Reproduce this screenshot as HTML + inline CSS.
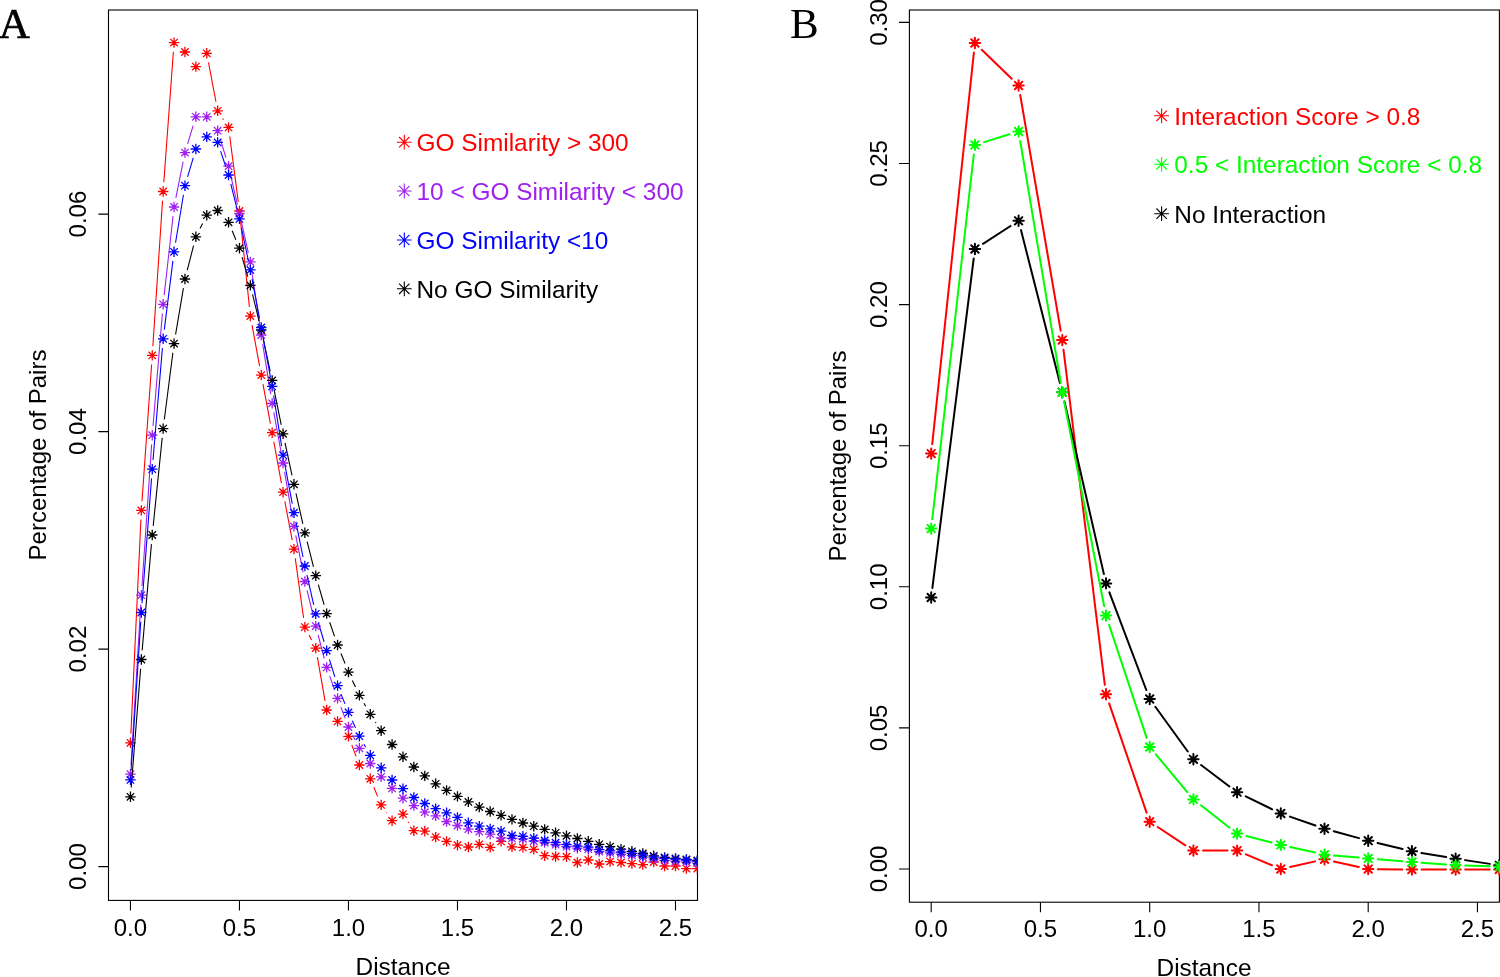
<!DOCTYPE html>
<html><head><meta charset="utf-8"><style>
html,body{margin:0;padding:0;background:#fff;width:1500px;height:977px;overflow:hidden}
svg{display:block;will-change:transform}

</style></head><body>
<svg width="1500" height="977" viewBox="0 0 1500 977">
<defs><clipPath id="ca"><rect x="108.5" y="10" width="589" height="890.4"/></clipPath><clipPath id="cb"><rect x="909.4" y="10" width="590.6" height="892.2"/></clipPath></defs>
<rect width="1500" height="977" fill="#fff"/>
<text x="-1.3" y="38" stroke="#000" stroke-width="0.7" style="font-family:&quot;Liberation Serif&quot;,serif;font-weight:normal;font-size:43px">A</text>
<text x="790" y="37.5" style="font-family:&quot;Liberation Serif&quot;,serif;font-weight:normal;font-size:43px">B</text>
<g fill="none" stroke="#000" stroke-width="1.1">
<rect x="108.5" y="10" width="589" height="890.4"/>
<path d="M130.45 900.4v10M239.46 900.4v10M348.47 900.4v10M457.48 900.4v10M566.49 900.4v10M675.5 900.4v10M98.4 866.6H108.5M98.4 649.1H108.5M98.4 431.6H108.5M98.4 214.1H108.5"/>
</g>
<g font-family="Liberation Sans, sans-serif" font-size="24" text-anchor="middle" fill="#000">
<text x="130.45" y="935.6">0.0</text>
<text x="239.46" y="935.6">0.5</text>
<text x="348.47" y="935.6">1.0</text>
<text x="457.48" y="935.6">1.5</text>
<text x="566.49" y="935.6">2.0</text>
<text x="675.5" y="935.6">2.5</text>
<text transform="translate(85.9 866.6) rotate(-90)">0.00</text>
<text transform="translate(85.9 649.1) rotate(-90)">0.02</text>
<text transform="translate(85.9 431.6) rotate(-90)">0.04</text>
<text transform="translate(85.9 214.1) rotate(-90)">0.06</text>
<text x="403" y="974.7" font-size="24.4">Distance</text>
<text transform="translate(46.4 455) rotate(-90)">Percentage of Pairs</text>
</g>
<g clip-path="url(#ca)" fill="none">
<path d="M130.88 733.61L140.92 519.59M142 501.22L151.61 364.58M152.86 346.22L162.54 200.68M163.82 182.32L173.38 51.78M208.47 62.34L215.94 101.76M222.71 118.49L223.51 119.71M229.75 136.52L238.27 201.88M240.41 220.15L249.41 306.95M252.03 325.15L259.59 366.05M262.97 384.14L270.45 423.66M273.82 441.75L281.41 483.15M284.8 501.24L292.23 540.06M295.24 558.21L303.59 617.99M309.1 635.27L311.53 639.93M317.36 657.16L325.07 700.94M343 728.83L343.04 728.87M351.74 744.9L356.1 756.4M373.82 787.29L377.63 796.41M386.4 812.47L386.85 813.13M408.02 821.79L408.83 823.01" stroke="#ff0000" stroke-width="1.1"/>
<path d="M125.25 742.8h10.4M130.45 737.6v10.4M126.75 739.1l7.4 7.4M126.75 746.5l7.4 -7.4M136.15 510.4h10.4M141.35 505.2v10.4M137.65 506.7l7.4 7.4M137.65 514.1l7.4 -7.4M147.05 355.4h10.4M152.25 350.2v10.4M148.55 351.7l7.4 7.4M148.55 359.1l7.4 -7.4M157.95 191.5h10.4M163.15 186.3v10.4M159.45 187.8l7.4 7.4M159.45 195.2l7.4 -7.4M168.85 42.6h10.4M174.05 37.4v10.4M170.35 38.9l7.4 7.4M170.35 46.3l7.4 -7.4M179.75 52h10.4M184.95 46.8v10.4M181.25 48.3l7.4 7.4M181.25 55.7l7.4 -7.4M190.66 66.6h10.4M195.86 61.4v10.4M192.16 62.9l7.4 7.4M192.16 70.3l7.4 -7.4M201.56 53.3h10.4M206.76 48.1v10.4M203.06 49.6l7.4 7.4M203.06 57l7.4 -7.4M212.46 110.8h10.4M217.66 105.6v10.4M213.96 107.1l7.4 7.4M213.96 114.5l7.4 -7.4M223.36 127.4h10.4M228.56 122.2v10.4M224.86 123.7l7.4 7.4M224.86 131.1l7.4 -7.4M234.26 211h10.4M239.46 205.8v10.4M235.76 207.3l7.4 7.4M235.76 214.7l7.4 -7.4M245.16 316.1h10.4M250.36 310.9v10.4M246.66 312.4l7.4 7.4M246.66 319.8l7.4 -7.4M256.06 375.1h10.4M261.26 369.9v10.4M257.56 371.4l7.4 7.4M257.56 378.8l7.4 -7.4M266.96 432.7h10.4M272.16 427.5v10.4M268.46 429l7.4 7.4M268.46 436.4l7.4 -7.4M277.86 492.2h10.4M283.06 487v10.4M279.36 488.5l7.4 7.4M279.36 495.9l7.4 -7.4M288.77 549.1h10.4M293.97 543.9v10.4M290.27 545.4l7.4 7.4M290.27 552.8l7.4 -7.4M299.67 627.1h10.4M304.87 621.9v10.4M301.17 623.4l7.4 7.4M301.17 630.8l7.4 -7.4M310.57 648.1h10.4M315.77 642.9v10.4M312.07 644.4l7.4 7.4M312.07 651.8l7.4 -7.4M321.47 710h10.4M326.67 704.8v10.4M322.97 706.3l7.4 7.4M322.97 713.7l7.4 -7.4M332.37 721.4h10.4M337.57 716.2v10.4M333.87 717.7l7.4 7.4M333.87 725.1l7.4 -7.4M343.27 736.3h10.4M348.47 731.1v10.4M344.77 732.6l7.4 7.4M344.77 740l7.4 -7.4M354.17 765h10.4M359.37 759.8v10.4M355.67 761.3l7.4 7.4M355.67 768.7l7.4 -7.4M365.07 778.8h10.4M370.27 773.6v10.4M366.57 775.1l7.4 7.4M366.57 782.5l7.4 -7.4M375.97 804.9h10.4M381.17 799.7v10.4M377.47 801.2l7.4 7.4M377.47 808.6l7.4 -7.4M386.87 820.7h10.4M392.07 815.5v10.4M388.37 817l7.4 7.4M388.37 824.4l7.4 -7.4M397.78 814.1h10.4M402.98 808.9v10.4M399.28 810.4l7.4 7.4M399.28 817.8l7.4 -7.4M408.68 830.7h10.4M413.88 825.5v10.4M410.18 827l7.4 7.4M410.18 834.4l7.4 -7.4M419.58 831.2h10.4M424.78 826v10.4M421.08 827.5l7.4 7.4M421.08 834.9l7.4 -7.4M430.48 837.1h10.4M435.68 831.9v10.4M431.98 833.4l7.4 7.4M431.98 840.8l7.4 -7.4M441.38 841.4h10.4M446.58 836.2v10.4M442.88 837.7l7.4 7.4M442.88 845.1l7.4 -7.4M452.28 845.2h10.4M457.48 840v10.4M453.78 841.5l7.4 7.4M453.78 848.9l7.4 -7.4M463.18 847h10.4M468.38 841.8v10.4M464.68 843.3l7.4 7.4M464.68 850.7l7.4 -7.4M474.08 844.3h10.4M479.28 839.1v10.4M475.58 840.6l7.4 7.4M475.58 848l7.4 -7.4M484.98 847.3h10.4M490.18 842.1v10.4M486.48 843.6l7.4 7.4M486.48 851l7.4 -7.4M495.88 841.4h10.4M501.08 836.2v10.4M497.38 837.7l7.4 7.4M497.38 845.1l7.4 -7.4M506.79 846.8h10.4M511.99 841.6v10.4M508.29 843.1l7.4 7.4M508.29 850.5l7.4 -7.4M517.69 847.4h10.4M522.89 842.2v10.4M519.19 843.7l7.4 7.4M519.19 851.1l7.4 -7.4M528.59 849.3h10.4M533.79 844.1v10.4M530.09 845.6l7.4 7.4M530.09 853l7.4 -7.4M539.49 855.7h10.4M544.69 850.5v10.4M540.99 852l7.4 7.4M540.99 859.4l7.4 -7.4M550.39 856.5h10.4M555.59 851.3v10.4M551.89 852.8l7.4 7.4M551.89 860.2l7.4 -7.4M561.29 856.7h10.4M566.49 851.5v10.4M562.79 853l7.4 7.4M562.79 860.4l7.4 -7.4M572.19 862.5h10.4M577.39 857.3v10.4M573.69 858.8l7.4 7.4M573.69 866.2l7.4 -7.4M583.09 860h10.4M588.29 854.8v10.4M584.59 856.3l7.4 7.4M584.59 863.7l7.4 -7.4M593.99 864h10.4M599.19 858.8v10.4M595.49 860.3l7.4 7.4M595.49 867.7l7.4 -7.4M604.89 861.6h10.4M610.09 856.4v10.4M606.39 857.9l7.4 7.4M606.39 865.3l7.4 -7.4M615.8 862.5h10.4M621 857.3v10.4M617.3 858.8l7.4 7.4M617.3 866.2l7.4 -7.4M626.7 863.6h10.4M631.9 858.4v10.4M628.2 859.9l7.4 7.4M628.2 867.3l7.4 -7.4M637.6 864.6h10.4M642.8 859.4v10.4M639.1 860.9l7.4 7.4M639.1 868.3l7.4 -7.4M648.5 862h10.4M653.7 856.8v10.4M650 858.3l7.4 7.4M650 865.7l7.4 -7.4M659.4 866h10.4M664.6 860.8v10.4M660.9 862.3l7.4 7.4M660.9 869.7l7.4 -7.4M670.3 866h10.4M675.5 860.8v10.4M671.8 862.3l7.4 7.4M671.8 869.7l7.4 -7.4M681.2 868.6h10.4M686.4 863.4v10.4M682.7 864.9l7.4 7.4M682.7 872.3l7.4 -7.4M692.1 868.6h10.4M697.3 863.4v10.4M693.6 864.9l7.4 7.4M693.6 872.3l7.4 -7.4" stroke="#ff0000" stroke-width="1.3"/>
<path d="M131.01 765.02L140.79 604.38M141.98 586.02L151.63 444.38M153.02 426.03L162.39 313.47M164.18 295.16L173.03 216.14M175.86 197.98L183.15 161.62M187.63 143.8L193.18 125.6M220.36 139.49L225.86 157.41M230.63 175.16L237.39 204.54M241.48 222.48L248.34 252.92M251.72 271L259.91 325.9M262.71 344.09L270.71 394.21M273.82 412.35L281.41 453.95M284.62 472.07L292.41 517.33M295.75 535.43L303.08 572.47M307.05 590.44L313.58 617.16M318.11 635L324.32 658.5M329.72 676.08L334.52 689.72M340.85 707L345.19 718.4M352.66 735.19L355.18 740.11M364.73 755.78L364.91 756.02" stroke="#a020f0" stroke-width="1.1"/>
<path d="M125.25 774.2h10.4M130.45 769v10.4M126.75 770.5l7.4 7.4M126.75 777.9l7.4 -7.4M136.15 595.2h10.4M141.35 590v10.4M137.65 591.5l7.4 7.4M137.65 598.9l7.4 -7.4M147.05 435.2h10.4M152.25 430v10.4M148.55 431.5l7.4 7.4M148.55 438.9l7.4 -7.4M157.95 304.3h10.4M163.15 299.1v10.4M159.45 300.6l7.4 7.4M159.45 308l7.4 -7.4M168.85 207h10.4M174.05 201.8v10.4M170.35 203.3l7.4 7.4M170.35 210.7l7.4 -7.4M179.75 152.6h10.4M184.95 147.4v10.4M181.25 148.9l7.4 7.4M181.25 156.3l7.4 -7.4M190.66 116.8h10.4M195.86 111.6v10.4M192.16 113.1l7.4 7.4M192.16 120.5l7.4 -7.4M201.56 116.8h10.4M206.76 111.6v10.4M203.06 113.1l7.4 7.4M203.06 120.5l7.4 -7.4M212.46 130.7h10.4M217.66 125.5v10.4M213.96 127l7.4 7.4M213.96 134.4l7.4 -7.4M223.36 166.2h10.4M228.56 161v10.4M224.86 162.5l7.4 7.4M224.86 169.9l7.4 -7.4M234.26 213.5h10.4M239.46 208.3v10.4M235.76 209.8l7.4 7.4M235.76 217.2l7.4 -7.4M245.16 261.9h10.4M250.36 256.7v10.4M246.66 258.2l7.4 7.4M246.66 265.6l7.4 -7.4M256.06 335h10.4M261.26 329.8v10.4M257.56 331.3l7.4 7.4M257.56 338.7l7.4 -7.4M266.96 403.3h10.4M272.16 398.1v10.4M268.46 399.6l7.4 7.4M268.46 407l7.4 -7.4M277.86 463h10.4M283.06 457.8v10.4M279.36 459.3l7.4 7.4M279.36 466.7l7.4 -7.4M288.77 526.4h10.4M293.97 521.2v10.4M290.27 522.7l7.4 7.4M290.27 530.1l7.4 -7.4M299.67 581.5h10.4M304.87 576.3v10.4M301.17 577.8l7.4 7.4M301.17 585.2l7.4 -7.4M310.57 626.1h10.4M315.77 620.9v10.4M312.07 622.4l7.4 7.4M312.07 629.8l7.4 -7.4M321.47 667.4h10.4M326.67 662.2v10.4M322.97 663.7l7.4 7.4M322.97 671.1l7.4 -7.4M332.37 698.4h10.4M337.57 693.2v10.4M333.87 694.7l7.4 7.4M333.87 702.1l7.4 -7.4M343.27 727h10.4M348.47 721.8v10.4M344.77 723.3l7.4 7.4M344.77 730.7l7.4 -7.4M354.17 748.3h10.4M359.37 743.1v10.4M355.67 744.6l7.4 7.4M355.67 752l7.4 -7.4M365.07 763.5h10.4M370.27 758.3v10.4M366.57 759.8l7.4 7.4M366.57 767.2l7.4 -7.4M375.97 776.8h10.4M381.17 771.6v10.4M377.47 773.1l7.4 7.4M377.47 780.5l7.4 -7.4M386.87 788.4h10.4M392.07 783.2v10.4M388.37 784.7l7.4 7.4M388.37 792.1l7.4 -7.4M397.78 798.2h10.4M402.98 793v10.4M399.28 794.5l7.4 7.4M399.28 801.9l7.4 -7.4M408.68 805.6h10.4M413.88 800.4v10.4M410.18 801.9l7.4 7.4M410.18 809.3l7.4 -7.4M419.58 812.2h10.4M424.78 807v10.4M421.08 808.5l7.4 7.4M421.08 815.9l7.4 -7.4M430.48 815.8h10.4M435.68 810.6v10.4M431.98 812.1l7.4 7.4M431.98 819.5l7.4 -7.4M441.38 821.5h10.4M446.58 816.3v10.4M442.88 817.8l7.4 7.4M442.88 825.2l7.4 -7.4M452.28 825.5h10.4M457.48 820.3v10.4M453.78 821.8l7.4 7.4M453.78 829.2l7.4 -7.4M463.18 829.1h10.4M468.38 823.9v10.4M464.68 825.4l7.4 7.4M464.68 832.8l7.4 -7.4M474.08 831.7h10.4M479.28 826.5v10.4M475.58 828l7.4 7.4M475.58 835.4l7.4 -7.4M484.98 834.2h10.4M490.18 829v10.4M486.48 830.5l7.4 7.4M486.48 837.9l7.4 -7.4M495.88 837.8h10.4M501.08 832.6v10.4M497.38 834.1l7.4 7.4M497.38 841.5l7.4 -7.4M506.79 838.4h10.4M511.99 833.2v10.4M508.29 834.7l7.4 7.4M508.29 842.1l7.4 -7.4M517.69 838.8h10.4M522.89 833.6v10.4M519.19 835.1l7.4 7.4M519.19 842.5l7.4 -7.4M528.59 841h10.4M533.79 835.8v10.4M530.09 837.3l7.4 7.4M530.09 844.7l7.4 -7.4M539.49 842.5h10.4M544.69 837.3v10.4M540.99 838.8l7.4 7.4M540.99 846.2l7.4 -7.4M550.39 844.7h10.4M555.59 839.5v10.4M551.89 841l7.4 7.4M551.89 848.4l7.4 -7.4M561.29 846.7h10.4M566.49 841.5v10.4M562.79 843l7.4 7.4M562.79 850.4l7.4 -7.4M572.19 848.2h10.4M577.39 843v10.4M573.69 844.5l7.4 7.4M573.69 851.9l7.4 -7.4M583.09 849.2h10.4M588.29 844v10.4M584.59 845.5l7.4 7.4M584.59 852.9l7.4 -7.4M593.99 851.6h10.4M599.19 846.4v10.4M595.49 847.9l7.4 7.4M595.49 855.3l7.4 -7.4M604.89 852.9h10.4M610.09 847.7v10.4M606.39 849.2l7.4 7.4M606.39 856.6l7.4 -7.4M615.8 854.1h10.4M621 848.9v10.4M617.3 850.4l7.4 7.4M617.3 857.8l7.4 -7.4M626.7 855.3h10.4M631.9 850.1v10.4M628.2 851.6l7.4 7.4M628.2 859l7.4 -7.4M637.6 857.2h10.4M642.8 852v10.4M639.1 853.5l7.4 7.4M639.1 860.9l7.4 -7.4M648.5 859.1h10.4M653.7 853.9v10.4M650 855.4l7.4 7.4M650 862.8l7.4 -7.4M659.4 860.3h10.4M664.6 855.1v10.4M660.9 856.6l7.4 7.4M660.9 864l7.4 -7.4M670.3 861.2h10.4M675.5 856v10.4M671.8 857.5l7.4 7.4M671.8 864.9l7.4 -7.4M681.2 862h10.4M686.4 856.8v10.4M682.7 858.3l7.4 7.4M682.7 865.7l7.4 -7.4M692.1 863.2h10.4M697.3 858v10.4M693.6 859.5l7.4 7.4M693.6 866.9l7.4 -7.4" stroke="#a020f0" stroke-width="1.3"/>
<path d="M131.18 787.63L140.62 668.67M142.15 650.34L151.45 544.16M153.19 525.85L162.22 437.75M164.32 419.47L172.88 352.73M175.58 334.53L183.42 288.07M187.26 270.09L193.56 245.71M200 228.59L202.61 223.41M232.13 230.78L235.89 239.72M242.05 257.03L247.77 276.57M252.55 294.34L259.08 321.06M263.21 338.99L270.22 371.41M274 389.41L281.22 424.79M285.01 442.79L292.02 475.31M295.98 493.28L302.85 523.82M307.13 541.72L313.5 566.78M318.31 584.54L324.12 604.76M329.69 622.29L334.55 636.31M341 653.54L345.04 663.56M352.38 680.43L355.46 686.97M363.95 703.28L365.69 706.32M375.36 721.96L376.08 723.04" stroke="#000000" stroke-width="1.1"/>
<path d="M125.25 796.8h10.4M130.45 791.6v10.4M126.75 793.1l7.4 7.4M126.75 800.5l7.4 -7.4M136.15 659.5h10.4M141.35 654.3v10.4M137.65 655.8l7.4 7.4M137.65 663.2l7.4 -7.4M147.05 535h10.4M152.25 529.8v10.4M148.55 531.3l7.4 7.4M148.55 538.7l7.4 -7.4M157.95 428.6h10.4M163.15 423.4v10.4M159.45 424.9l7.4 7.4M159.45 432.3l7.4 -7.4M168.85 343.6h10.4M174.05 338.4v10.4M170.35 339.9l7.4 7.4M170.35 347.3l7.4 -7.4M179.75 279h10.4M184.95 273.8v10.4M181.25 275.3l7.4 7.4M181.25 282.7l7.4 -7.4M190.66 236.8h10.4M195.86 231.6v10.4M192.16 233.1l7.4 7.4M192.16 240.5l7.4 -7.4M201.56 215.2h10.4M206.76 210v10.4M203.06 211.5l7.4 7.4M203.06 218.9l7.4 -7.4M212.46 210.5h10.4M217.66 205.3v10.4M213.96 206.8l7.4 7.4M213.96 214.2l7.4 -7.4M223.36 222.3h10.4M228.56 217.1v10.4M224.86 218.6l7.4 7.4M224.86 226l7.4 -7.4M234.26 248.2h10.4M239.46 243v10.4M235.76 244.5l7.4 7.4M235.76 251.9l7.4 -7.4M245.16 285.4h10.4M250.36 280.2v10.4M246.66 281.7l7.4 7.4M246.66 289.1l7.4 -7.4M256.06 330h10.4M261.26 324.8v10.4M257.56 326.3l7.4 7.4M257.56 333.7l7.4 -7.4M266.96 380.4h10.4M272.16 375.2v10.4M268.46 376.7l7.4 7.4M268.46 384.1l7.4 -7.4M277.86 433.8h10.4M283.06 428.6v10.4M279.36 430.1l7.4 7.4M279.36 437.5l7.4 -7.4M288.77 484.3h10.4M293.97 479.1v10.4M290.27 480.6l7.4 7.4M290.27 488l7.4 -7.4M299.67 532.8h10.4M304.87 527.6v10.4M301.17 529.1l7.4 7.4M301.17 536.5l7.4 -7.4M310.57 575.7h10.4M315.77 570.5v10.4M312.07 572l7.4 7.4M312.07 579.4l7.4 -7.4M321.47 613.6h10.4M326.67 608.4v10.4M322.97 609.9l7.4 7.4M322.97 617.3l7.4 -7.4M332.37 645h10.4M337.57 639.8v10.4M333.87 641.3l7.4 7.4M333.87 648.7l7.4 -7.4M343.27 672.1h10.4M348.47 666.9v10.4M344.77 668.4l7.4 7.4M344.77 675.8l7.4 -7.4M354.17 695.3h10.4M359.37 690.1v10.4M355.67 691.6l7.4 7.4M355.67 699l7.4 -7.4M365.07 714.3h10.4M370.27 709.1v10.4M366.57 710.6l7.4 7.4M366.57 718l7.4 -7.4M375.97 730.7h10.4M381.17 725.5v10.4M377.47 727l7.4 7.4M377.47 734.4l7.4 -7.4M386.87 744.5h10.4M392.07 739.3v10.4M388.37 740.8l7.4 7.4M388.37 748.2l7.4 -7.4M397.78 756.8h10.4M402.98 751.6v10.4M399.28 753.1l7.4 7.4M399.28 760.5l7.4 -7.4M408.68 767h10.4M413.88 761.8v10.4M410.18 763.3l7.4 7.4M410.18 770.7l7.4 -7.4M419.58 775.9h10.4M424.78 770.7v10.4M421.08 772.2l7.4 7.4M421.08 779.6l7.4 -7.4M430.48 783.8h10.4M435.68 778.6v10.4M431.98 780.1l7.4 7.4M431.98 787.5l7.4 -7.4M441.38 790.4h10.4M446.58 785.2v10.4M442.88 786.7l7.4 7.4M442.88 794.1l7.4 -7.4M452.28 796.4h10.4M457.48 791.2v10.4M453.78 792.7l7.4 7.4M453.78 800.1l7.4 -7.4M463.18 801.9h10.4M468.38 796.7v10.4M464.68 798.2l7.4 7.4M464.68 805.6l7.4 -7.4M474.08 807.1h10.4M479.28 801.9v10.4M475.58 803.4l7.4 7.4M475.58 810.8l7.4 -7.4M484.98 811.5h10.4M490.18 806.3v10.4M486.48 807.8l7.4 7.4M486.48 815.2l7.4 -7.4M495.88 815.3h10.4M501.08 810.1v10.4M497.38 811.6l7.4 7.4M497.38 819l7.4 -7.4M506.79 819.4h10.4M511.99 814.2v10.4M508.29 815.7l7.4 7.4M508.29 823.1l7.4 -7.4M517.69 823h10.4M522.89 817.8v10.4M519.19 819.3l7.4 7.4M519.19 826.7l7.4 -7.4M528.59 826.2h10.4M533.79 821v10.4M530.09 822.5l7.4 7.4M530.09 829.9l7.4 -7.4M539.49 829.4h10.4M544.69 824.2v10.4M540.99 825.7l7.4 7.4M540.99 833.1l7.4 -7.4M550.39 832.8h10.4M555.59 827.6v10.4M551.89 829.1l7.4 7.4M551.89 836.5l7.4 -7.4M561.29 835.8h10.4M566.49 830.6v10.4M562.79 832.1l7.4 7.4M562.79 839.5l7.4 -7.4M572.19 838.5h10.4M577.39 833.3v10.4M573.69 834.8l7.4 7.4M573.69 842.2l7.4 -7.4M583.09 841.3h10.4M588.29 836.1v10.4M584.59 837.6l7.4 7.4M584.59 845l7.4 -7.4M593.99 844.3h10.4M599.19 839.1v10.4M595.49 840.6l7.4 7.4M595.49 848l7.4 -7.4M604.89 846.6h10.4M610.09 841.4v10.4M606.39 842.9l7.4 7.4M606.39 850.3l7.4 -7.4M615.8 849.2h10.4M621 844v10.4M617.3 845.5l7.4 7.4M617.3 852.9l7.4 -7.4M626.7 851.3h10.4M631.9 846.1v10.4M628.2 847.6l7.4 7.4M628.2 855l7.4 -7.4M637.6 853.5h10.4M642.8 848.3v10.4M639.1 849.8l7.4 7.4M639.1 857.2l7.4 -7.4M648.5 855.8h10.4M653.7 850.6v10.4M650 852.1l7.4 7.4M650 859.5l7.4 -7.4M659.4 857.4h10.4M664.6 852.2v10.4M660.9 853.7l7.4 7.4M660.9 861.1l7.4 -7.4M670.3 858.5h10.4M675.5 853.3v10.4M671.8 854.8l7.4 7.4M671.8 862.2l7.4 -7.4M681.2 859.5h10.4M686.4 854.3v10.4M682.7 855.8l7.4 7.4M682.7 863.2l7.4 -7.4M692.1 860.5h10.4M697.3 855.3v10.4M693.6 856.8l7.4 7.4M693.6 864.2l7.4 -7.4" stroke="#000000" stroke-width="1.3"/>
<path d="M131.05 770.72L140.75 621.68M142.05 603.33L151.55 478.37M153.02 460.03L162.39 347.97M164.3 329.67L172.91 260.93M175.55 242.72L183.46 194.78M187.57 176.88L193.24 157.82M220.58 151.13L225.64 166.27M230.78 183.93L237.24 209.97M241.38 227.9L248.44 260.9M252.07 278.94L259.55 318.46M262.94 336.55L270.49 377.35M273.6 395.49L281.62 446.11M284.78 464.24L292.25 503.66M295.81 521.71L303.02 556.99M306.91 574.97L313.72 604.83M318.38 622.62L324.05 641.78M329.4 659.38L334.83 676.82M341.04 694.12L345 703.88M352.3 720.76L355.54 727.84M363.93 744.19L365.71 747.31" stroke="#0000ff" stroke-width="1.1"/>
<path d="M125.25 779.9h10.4M130.45 774.7v10.4M126.75 776.2l7.4 7.4M126.75 783.6l7.4 -7.4M136.15 612.5h10.4M141.35 607.3v10.4M137.65 608.8l7.4 7.4M137.65 616.2l7.4 -7.4M147.05 469.2h10.4M152.25 464v10.4M148.55 465.5l7.4 7.4M148.55 472.9l7.4 -7.4M157.95 338.8h10.4M163.15 333.6v10.4M159.45 335.1l7.4 7.4M159.45 342.5l7.4 -7.4M168.85 251.8h10.4M174.05 246.6v10.4M170.35 248.1l7.4 7.4M170.35 255.5l7.4 -7.4M179.75 185.7h10.4M184.95 180.5v10.4M181.25 182l7.4 7.4M181.25 189.4l7.4 -7.4M190.66 149h10.4M195.86 143.8v10.4M192.16 145.3l7.4 7.4M192.16 152.7l7.4 -7.4M201.56 136.9h10.4M206.76 131.7v10.4M203.06 133.2l7.4 7.4M203.06 140.6l7.4 -7.4M212.46 142.4h10.4M217.66 137.2v10.4M213.96 138.7l7.4 7.4M213.96 146.1l7.4 -7.4M223.36 175h10.4M228.56 169.8v10.4M224.86 171.3l7.4 7.4M224.86 178.7l7.4 -7.4M234.26 218.9h10.4M239.46 213.7v10.4M235.76 215.2l7.4 7.4M235.76 222.6l7.4 -7.4M245.16 269.9h10.4M250.36 264.7v10.4M246.66 266.2l7.4 7.4M246.66 273.6l7.4 -7.4M256.06 327.5h10.4M261.26 322.3v10.4M257.56 323.8l7.4 7.4M257.56 331.2l7.4 -7.4M266.96 386.4h10.4M272.16 381.2v10.4M268.46 382.7l7.4 7.4M268.46 390.1l7.4 -7.4M277.86 455.2h10.4M283.06 450v10.4M279.36 451.5l7.4 7.4M279.36 458.9l7.4 -7.4M288.77 512.7h10.4M293.97 507.5v10.4M290.27 509l7.4 7.4M290.27 516.4l7.4 -7.4M299.67 566h10.4M304.87 560.8v10.4M301.17 562.3l7.4 7.4M301.17 569.7l7.4 -7.4M310.57 613.8h10.4M315.77 608.6v10.4M312.07 610.1l7.4 7.4M312.07 617.5l7.4 -7.4M321.47 650.6h10.4M326.67 645.4v10.4M322.97 646.9l7.4 7.4M322.97 654.3l7.4 -7.4M332.37 685.6h10.4M337.57 680.4v10.4M333.87 681.9l7.4 7.4M333.87 689.3l7.4 -7.4M343.27 712.4h10.4M348.47 707.2v10.4M344.77 708.7l7.4 7.4M344.77 716.1l7.4 -7.4M354.17 736.2h10.4M359.37 731v10.4M355.67 732.5l7.4 7.4M355.67 739.9l7.4 -7.4M365.07 755.3h10.4M370.27 750.1v10.4M366.57 751.6l7.4 7.4M366.57 759l7.4 -7.4M375.97 767.8h10.4M381.17 762.6v10.4M377.47 764.1l7.4 7.4M377.47 771.5l7.4 -7.4M386.87 780h10.4M392.07 774.8v10.4M388.37 776.3l7.4 7.4M388.37 783.7l7.4 -7.4M397.78 788.7h10.4M402.98 783.5v10.4M399.28 785l7.4 7.4M399.28 792.4l7.4 -7.4M408.68 797.5h10.4M413.88 792.3v10.4M410.18 793.8l7.4 7.4M410.18 801.2l7.4 -7.4M419.58 803.5h10.4M424.78 798.3v10.4M421.08 799.8l7.4 7.4M421.08 807.2l7.4 -7.4M430.48 808.7h10.4M435.68 803.5v10.4M431.98 805l7.4 7.4M431.98 812.4l7.4 -7.4M441.38 812.8h10.4M446.58 807.6v10.4M442.88 809.1l7.4 7.4M442.88 816.5l7.4 -7.4M452.28 817.4h10.4M457.48 812.2v10.4M453.78 813.7l7.4 7.4M453.78 821.1l7.4 -7.4M463.18 822.8h10.4M468.38 817.6v10.4M464.68 819.1l7.4 7.4M464.68 826.5l7.4 -7.4M474.08 826.1h10.4M479.28 820.9v10.4M475.58 822.4l7.4 7.4M475.58 829.8l7.4 -7.4M484.98 828.9h10.4M490.18 823.7v10.4M486.48 825.2l7.4 7.4M486.48 832.6l7.4 -7.4M495.88 831.2h10.4M501.08 826v10.4M497.38 827.5l7.4 7.4M497.38 834.9l7.4 -7.4M506.79 835.5h10.4M511.99 830.3v10.4M508.29 831.8l7.4 7.4M508.29 839.2l7.4 -7.4M517.69 836.3h10.4M522.89 831.1v10.4M519.19 832.6l7.4 7.4M519.19 840l7.4 -7.4M528.59 838.2h10.4M533.79 833v10.4M530.09 834.5l7.4 7.4M530.09 841.9l7.4 -7.4M539.49 840.5h10.4M544.69 835.3v10.4M540.99 836.8l7.4 7.4M540.99 844.2l7.4 -7.4M550.39 842.7h10.4M555.59 837.5v10.4M551.89 839l7.4 7.4M551.89 846.4l7.4 -7.4M561.29 844.7h10.4M566.49 839.5v10.4M562.79 841l7.4 7.4M562.79 848.4l7.4 -7.4M572.19 846.2h10.4M577.39 841v10.4M573.69 842.5l7.4 7.4M573.69 849.9l7.4 -7.4M583.09 847.2h10.4M588.29 842v10.4M584.59 843.5l7.4 7.4M584.59 850.9l7.4 -7.4M593.99 849.6h10.4M599.19 844.4v10.4M595.49 845.9l7.4 7.4M595.49 853.3l7.4 -7.4M604.89 850.9h10.4M610.09 845.7v10.4M606.39 847.2l7.4 7.4M606.39 854.6l7.4 -7.4M615.8 852.1h10.4M621 846.9v10.4M617.3 848.4l7.4 7.4M617.3 855.8l7.4 -7.4M626.7 853.3h10.4M631.9 848.1v10.4M628.2 849.6l7.4 7.4M628.2 857l7.4 -7.4M637.6 855.2h10.4M642.8 850v10.4M639.1 851.5l7.4 7.4M639.1 858.9l7.4 -7.4M648.5 857.1h10.4M653.7 851.9v10.4M650 853.4l7.4 7.4M650 860.8l7.4 -7.4M659.4 858.3h10.4M664.6 853.1v10.4M660.9 854.6l7.4 7.4M660.9 862l7.4 -7.4M670.3 859.2h10.4M675.5 854v10.4M671.8 855.5l7.4 7.4M671.8 862.9l7.4 -7.4M681.2 860h10.4M686.4 854.8v10.4M682.7 856.3l7.4 7.4M682.7 863.7l7.4 -7.4M692.1 861.2h10.4M697.3 856v10.4M693.6 857.5l7.4 7.4M693.6 864.9l7.4 -7.4" stroke="#0000ff" stroke-width="1.3"/>
</g>
<path d="M396.9 142.2h14.8M404.3 134.8v14.8M399.1 137l10.4 10.4M399.1 147.4l10.4 -10.4" stroke="#ff0000" stroke-width="1.1" fill="none"/>
<text x="416.5" y="151.2" font-family="Liberation Sans, sans-serif" font-size="24.4" fill="#ff0000">GO Similarity &gt; 300</text>
<path d="M396.9 191h14.8M404.3 183.6v14.8M399.1 185.8l10.4 10.4M399.1 196.2l10.4 -10.4" stroke="#a020f0" stroke-width="1.1" fill="none"/>
<text x="416.5" y="200" font-family="Liberation Sans, sans-serif" font-size="24.4" fill="#a020f0">10 &lt; GO Similarity &lt; 300</text>
<path d="M396.9 240h14.8M404.3 232.6v14.8M399.1 234.8l10.4 10.4M399.1 245.2l10.4 -10.4" stroke="#0000ff" stroke-width="1.1" fill="none"/>
<text x="416.5" y="249" font-family="Liberation Sans, sans-serif" font-size="24.4" fill="#0000ff">GO Similarity &lt;10</text>
<path d="M396.9 288.8h14.8M404.3 281.4v14.8M399.1 283.6l10.4 10.4M399.1 294l10.4 -10.4" stroke="#000000" stroke-width="1.1" fill="none"/>
<text x="416.5" y="297.8" font-family="Liberation Sans, sans-serif" font-size="24.4" fill="#000000">No GO Similarity</text>
<g fill="none" stroke="#000" stroke-width="1.1">
<rect x="909.4" y="10" width="590" height="892.2"/>
<path d="M931.2 902.2v10M1040.45 902.2v10M1149.7 902.2v10M1258.95 902.2v10M1368.2 902.2v10M1477.45 902.2v10M899 869H909.4M899 727.9H909.4M899 586.8H909.4M899 445.7H909.4M899 304.6H909.4M899 163.5H909.4M899 22.4H909.4"/>
</g>
<g font-family="Liberation Sans, sans-serif" font-size="24" text-anchor="middle" fill="#000">
<text x="931.2" y="936.6">0.0</text>
<text x="1040.45" y="936.6">0.5</text>
<text x="1149.7" y="936.6">1.0</text>
<text x="1258.95" y="936.6">1.5</text>
<text x="1368.2" y="936.6">2.0</text>
<text x="1477.45" y="936.6">2.5</text>
<text transform="translate(886.8 869) rotate(-90)">0.00</text>
<text transform="translate(886.8 727.9) rotate(-90)">0.05</text>
<text transform="translate(886.8 586.8) rotate(-90)">0.10</text>
<text transform="translate(886.8 445.7) rotate(-90)">0.15</text>
<text transform="translate(886.8 304.6) rotate(-90)">0.20</text>
<text transform="translate(886.8 163.5) rotate(-90)">0.25</text>
<text transform="translate(886.8 22.4) rotate(-90)">0.30</text>
<text x="1204" y="976" font-size="24.4">Distance</text>
<text transform="translate(846.4 456) rotate(-90)">Percentage of Pairs</text>
</g>
<g clip-path="url(#cb)" fill="none" stroke-linecap="round">
<path d="M932.22 444.05L973.88 52.55M981.78 49.69L1011.72 78.81M1020.22 94.96L1060.68 330.64M1063.48 349.63L1104.82 684.77M1109.11 703.38L1146.59 812.62M1157.71 827L1185.39 845.3M1203 850.6L1227.5 850.6M1245.95 854.33L1271.95 865.27M1290.17 866.92L1315.13 861.38M1333.87 861.4L1358.83 867M1377.8 869.21L1402.3 869.49M1421.5 869.6L1446 869.6M1465.2 869.6L1489.7 869.6" stroke="#ff0000" stroke-width="2"/>
<path d="M926 453.6h10.4M931.2 448.4v10.4M927.5 449.9l7.4 7.4M927.5 457.3l7.4 -7.4M969.7 43h10.4M974.9 37.8v10.4M971.2 39.3l7.4 7.4M971.2 46.7l7.4 -7.4M1013.4 85.5h10.4M1018.6 80.3v10.4M1014.9 81.8l7.4 7.4M1014.9 89.2l7.4 -7.4M1057.1 340.1h10.4M1062.3 334.9v10.4M1058.6 336.4l7.4 7.4M1058.6 343.8l7.4 -7.4M1100.8 694.3h10.4M1106 689.1v10.4M1102.3 690.6l7.4 7.4M1102.3 698l7.4 -7.4M1144.5 821.7h10.4M1149.7 816.5v10.4M1146 818l7.4 7.4M1146 825.4l7.4 -7.4M1188.2 850.6h10.4M1193.4 845.4v10.4M1189.7 846.9l7.4 7.4M1189.7 854.3l7.4 -7.4M1231.9 850.6h10.4M1237.1 845.4v10.4M1233.4 846.9l7.4 7.4M1233.4 854.3l7.4 -7.4M1275.6 869h10.4M1280.8 863.8v10.4M1277.1 865.3l7.4 7.4M1277.1 872.7l7.4 -7.4M1319.3 859.3h10.4M1324.5 854.1v10.4M1320.8 855.6l7.4 7.4M1320.8 863l7.4 -7.4M1363 869.1h10.4M1368.2 863.9v10.4M1364.5 865.4l7.4 7.4M1364.5 872.8l7.4 -7.4M1406.7 869.6h10.4M1411.9 864.4v10.4M1408.2 865.9l7.4 7.4M1408.2 873.3l7.4 -7.4M1450.4 869.6h10.4M1455.6 864.4v10.4M1451.9 865.9l7.4 7.4M1451.9 873.3l7.4 -7.4M1494.1 869.6h10.4M1499.3 864.4v10.4M1495.6 865.9l7.4 7.4M1495.6 873.3l7.4 -7.4" stroke="#ff0000" stroke-width="2"/>
<path d="M932.39 587.97L973.71 258.53M982.97 243.79L1010.53 226.01M1020.97 230.1L1059.93 382.9M1064.44 401.56L1103.86 574.04M1109.39 592.38L1146.31 690.02M1155.33 706.77L1187.77 751.53M1201.07 765.07L1229.43 786.43M1245.73 796.41L1272.17 809.29M1289.87 816.65L1315.43 825.55M1333.76 831.24L1358.94 838.16M1377.53 842.96L1402.57 849.04M1421.37 852.9L1446.13 857.1M1465.09 860.13L1489.81 863.87" stroke="#000000" stroke-width="2"/>
<path d="M926 597.5h10.4M931.2 592.3v10.4M927.5 593.8l7.4 7.4M927.5 601.2l7.4 -7.4M969.7 249h10.4M974.9 243.8v10.4M971.2 245.3l7.4 7.4M971.2 252.7l7.4 -7.4M1013.4 220.8h10.4M1018.6 215.6v10.4M1014.9 217.1l7.4 7.4M1014.9 224.5l7.4 -7.4M1057.1 392.2h10.4M1062.3 387v10.4M1058.6 388.5l7.4 7.4M1058.6 395.9l7.4 -7.4M1100.8 583.4h10.4M1106 578.2v10.4M1102.3 579.7l7.4 7.4M1102.3 587.1l7.4 -7.4M1144.5 699h10.4M1149.7 693.8v10.4M1146 695.3l7.4 7.4M1146 702.7l7.4 -7.4M1188.2 759.3h10.4M1193.4 754.1v10.4M1189.7 755.6l7.4 7.4M1189.7 763l7.4 -7.4M1231.9 792.2h10.4M1237.1 787v10.4M1233.4 788.5l7.4 7.4M1233.4 795.9l7.4 -7.4M1275.6 813.5h10.4M1280.8 808.3v10.4M1277.1 809.8l7.4 7.4M1277.1 817.2l7.4 -7.4M1319.3 828.7h10.4M1324.5 823.5v10.4M1320.8 825l7.4 7.4M1320.8 832.4l7.4 -7.4M1363 840.7h10.4M1368.2 835.5v10.4M1364.5 837l7.4 7.4M1364.5 844.4l7.4 -7.4M1406.7 851.3h10.4M1411.9 846.1v10.4M1408.2 847.6l7.4 7.4M1408.2 855l7.4 -7.4M1450.4 858.7h10.4M1455.6 853.5v10.4M1451.9 855l7.4 7.4M1451.9 862.4l7.4 -7.4M1494.1 865.3h10.4M1499.3 860.1v10.4M1495.6 861.6l7.4 7.4M1495.6 869l7.4 -7.4" stroke="#000000" stroke-width="2"/>
<path d="M932.29 519.06L973.81 154.44M984.08 142.09L1009.42 134.31M1020.19 140.97L1060.71 382.73M1064.14 401.62L1104.16 606.18M1109.03 624.71L1146.67 737.89M1155.85 754.37L1187.25 792.03M1200.96 805.32L1229.54 827.68M1246.39 836L1271.51 842.5M1290.17 847L1315.13 852.6M1334.07 855.51L1358.63 857.59M1377.77 859.19L1402.33 861.21M1421.48 862.68L1446.02 864.42M1465.19 865.45L1489.71 866.35" stroke="#00ff00" stroke-width="2"/>
<path d="M926 528.6h10.4M931.2 523.4v10.4M927.5 524.9l7.4 7.4M927.5 532.3l7.4 -7.4M969.7 144.9h10.4M974.9 139.7v10.4M971.2 141.2l7.4 7.4M971.2 148.6l7.4 -7.4M1013.4 131.5h10.4M1018.6 126.3v10.4M1014.9 127.8l7.4 7.4M1014.9 135.2l7.4 -7.4M1057.1 392.2h10.4M1062.3 387v10.4M1058.6 388.5l7.4 7.4M1058.6 395.9l7.4 -7.4M1100.8 615.6h10.4M1106 610.4v10.4M1102.3 611.9l7.4 7.4M1102.3 619.3l7.4 -7.4M1144.5 747h10.4M1149.7 741.8v10.4M1146 743.3l7.4 7.4M1146 750.7l7.4 -7.4M1188.2 799.4h10.4M1193.4 794.2v10.4M1189.7 795.7l7.4 7.4M1189.7 803.1l7.4 -7.4M1231.9 833.6h10.4M1237.1 828.4v10.4M1233.4 829.9l7.4 7.4M1233.4 837.3l7.4 -7.4M1275.6 844.9h10.4M1280.8 839.7v10.4M1277.1 841.2l7.4 7.4M1277.1 848.6l7.4 -7.4M1319.3 854.7h10.4M1324.5 849.5v10.4M1320.8 851l7.4 7.4M1320.8 858.4l7.4 -7.4M1363 858.4h10.4M1368.2 853.2v10.4M1364.5 854.7l7.4 7.4M1364.5 862.1l7.4 -7.4M1406.7 862h10.4M1411.9 856.8v10.4M1408.2 858.3l7.4 7.4M1408.2 865.7l7.4 -7.4M1450.4 865.1h10.4M1455.6 859.9v10.4M1451.9 861.4l7.4 7.4M1451.9 868.8l7.4 -7.4M1494.1 866.7h10.4M1499.3 861.5v10.4M1495.6 863l7.4 7.4M1495.6 870.4l7.4 -7.4" stroke="#00ff00" stroke-width="2"/>
</g>
<path d="M1154.2 115.8h14.8M1161.6 108.4v14.8M1156.4 110.6l10.4 10.4M1156.4 121l10.4 -10.4" stroke="#ff0000" stroke-width="1.1" fill="none"/>
<text x="1174.3" y="124.8" font-family="Liberation Sans, sans-serif" font-size="24.4" fill="#ff0000">Interaction Score &gt; 0.8</text>
<path d="M1154.2 164.3h14.8M1161.6 156.9v14.8M1156.4 159.1l10.4 10.4M1156.4 169.5l10.4 -10.4" stroke="#00ff00" stroke-width="1.1" fill="none"/>
<text x="1174.3" y="173.3" font-family="Liberation Sans, sans-serif" font-size="24.4" fill="#00ff00">0.5 &lt; Interaction Score &lt; 0.8</text>
<path d="M1154.2 213.7h14.8M1161.6 206.3v14.8M1156.4 208.5l10.4 10.4M1156.4 218.9l10.4 -10.4" stroke="#000000" stroke-width="1.1" fill="none"/>
<text x="1174.3" y="222.7" font-family="Liberation Sans, sans-serif" font-size="24.4" fill="#000000">No Interaction</text>
</svg>
</body></html>
